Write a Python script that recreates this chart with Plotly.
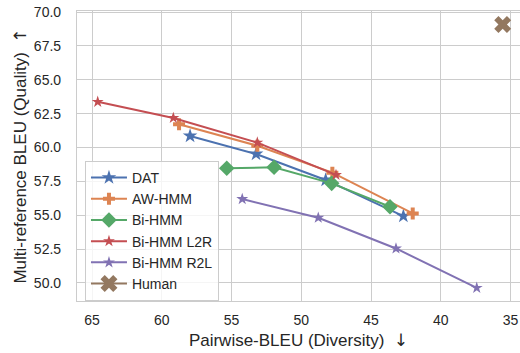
import plotly.graph_objects as go

# ---- data ----
dat_x = [57.97, 53.24, 48.25, 42.68]
dat_y = [60.85, 59.52, 57.60, 54.93]

aw_x = [58.76, 53.15, 47.77, 42.01]
aw_y = [61.72, 60.13, 58.14, 55.13]

bi_x = [55.34, 51.95, 47.82, 43.64]
bi_y = [58.46, 58.54, 57.35, 55.62]

l2r_x = [64.59, 59.17, 53.15, 47.51]
l2r_y = [63.37, 62.18, 60.36, 57.97]

r2l_x = [54.23, 48.78, 43.21, 37.42]
r2l_y = [56.19, 54.81, 52.54, 49.63]

human_x = [35.56]
human_y = [69.08]

x_ticks = [65, 60, 55, 50, 45, 40, 35]
y_ticks = [50.0, 52.5, 55.0, 57.5, 60.0, 62.5, 65.0, 67.5, 70.0]

series = [
    ("DAT", dat_x, dat_y, "#4c72b0", "star", 11),
    ("AW-HMM", aw_x, aw_y, "#dd8452", "cross", 10),
    ("Bi-HMM", bi_x, bi_y, "#55a868", "diamond", 12),
    ("Bi-HMM L2R", l2r_x, l2r_y, "#c44e52", "star", 9),
    ("Bi-HMM R2L", r2l_x, r2l_y, "#8172b3", "star", 9),
    ("Human", human_x, human_y, "#937860", "x", 15),
]

fig = go.Figure()
for name, xs, ys, color, sym, sz in series:
    fig.add_trace(go.Scatter(
        x=xs, y=ys, name=name, mode="lines+markers",
        line=dict(color=color, width=2),
        marker=dict(symbol=sym, size=sz, color=color, line=dict(width=0)),
    ))

font_family = "Liberation Sans, Arial, sans-serif"
txt = "#262626"
arrow = '<span style="font-family:DejaVu Sans">{}</span>'

fig.update_layout(
    width=520, height=353,
    margin=dict(l=77, r=0, t=11, b=52, autoexpand=False),
    paper_bgcolor="white", plot_bgcolor="white",
    font=dict(family=font_family, color=txt, size=14),
    legend=dict(
        x=0.018, y=0.483, xanchor="left", yanchor="top",
        bgcolor="rgba(255,255,255,0.8)", bordercolor="#cccccc", borderwidth=1,
        font=dict(size=14, color=txt), itemwidth=36,
    ),
    showlegend=True,
)
fig.update_xaxes(
    range=[66.075, 34.32], tickvals=x_ticks, ticktext=[str(v) for v in x_ticks],
    showgrid=True, gridcolor="#cccccc", gridwidth=1,
    showline=True, linecolor="#cccccc", linewidth=1.2, mirror=True,
    zeroline=False, ticks="", ticklabelstandoff=6, ticklabeloverflow="allow",
    tickfont=dict(size=14, color=txt),
    title=dict(text="Pairwise-BLEU (Diversity)  " + arrow.format("↓"),
               font=dict(size=17, color=txt), standoff=7),
)
fig.update_yaxes(
    range=[48.66, 70.08], tickvals=y_ticks, ticktext=[f"{v:.1f}" for v in y_ticks],
    showgrid=True, gridcolor="#cccccc", gridwidth=1,
    showline=True, linecolor="#cccccc", linewidth=1.2,
    zeroline=False, ticks="", ticklabelstandoff=12, ticklabeloverflow="allow",
    tickfont=dict(size=14, color=txt),
    title=dict(text="Multi-reference BLEU (Quality)  " + arrow.format("↑"),
               font=dict(size=17, color=txt), standoff=2),
)

fig.write_html(
    "out.html",
    config={"displayModeBar": False},
    post_script="document.body.style.margin='0px';document.body.style.overflow='hidden';",
)
